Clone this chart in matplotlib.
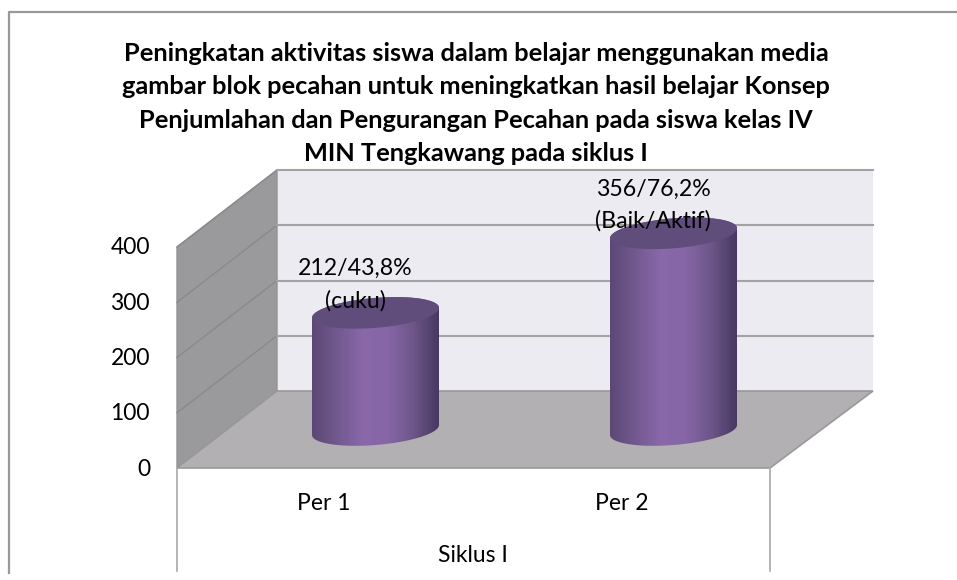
import matplotlib
matplotlib.use("Agg")
from matplotlib import pyplot as plt
from matplotlib.colors import LinearSegmentedColormap
from matplotlib.patches import Polygon
import numpy as np

categories = ["Per 1", "Per 2"]
group_label = "Siklus I"
values = [212, 356]
value_labels = ["212/43,8%\n(cuku)", "356/76,2%\n(Baik/Aktif)"]
y_ticks = [0, 100, 200, 300, 400]
title = ("Peningkatan aktivitas siswa dalam belajar menggunakan media\n"
         "gambar blok pecahan untuk meningkatkan hasil belajar Konsep\n"
         "Penjumlahan dan Pengurangan Pecahan pada siswa kelas IV\n"
         "MIN Tengkawang pada siklus I")

W, H = 957, 580
plt.rcParams['font.family'] = ['Lato', 'DejaVu Sans']

# pixel layout of the 3d box
PX_PER_UNIT = 0.5525
FRONT_Y, BACK_Y = 468, 391
FRONT_L, FRONT_R = 177, 770
BACK_L, BACK_R = 277, 873
AXIS_END = 571
BAR_Y0 = 430
BAR_X0, BAR_STEP = 375.5, 298
BAR_HALF = 63.5
ELL_H = 15
TILT = 5

fig = plt.figure(figsize=(W / 100, H / 100), dpi=100)

# pixel axes for the frame, walls and text layout
bg = fig.add_axes([0, 0, 1, 1])
bg.set_xlim(0, W)
bg.set_ylim(H, 0)
bg.axis("off")

# data axes on top: x is category index, y is the value
ax = fig.add_axes([0, 0, 1, 1], facecolor="none")
ax.axis("off")

bg.plot([9, 9, W], [573, 11.5, 11.5], color="#999999", lw=1.6)

top = max(y_ticks) * PX_PER_UNIT
bg.add_patch(Polygon([(BACK_L, BACK_Y), (BACK_R, BACK_Y), (BACK_R, BACK_Y - top), (BACK_L, BACK_Y - top)],
                     fc="#ecebf1", ec="none"))
bg.add_patch(Polygon([(FRONT_L, FRONT_Y), (BACK_L, BACK_Y), (BACK_L, BACK_Y - top), (FRONT_L, FRONT_Y - top)],
                     fc="#9a999c", ec="#929292", lw=1))
bg.add_patch(Polygon([(FRONT_L, FRONT_Y), (FRONT_R, FRONT_Y), (BACK_R, BACK_Y), (BACK_L, BACK_Y)],
                     fc="#b3b0b4", ec="#999999", lw=1.2))

for t in y_ticks:
    dy = t * PX_PER_UNIT
    if t > 0:
        bg.plot([FRONT_L, BACK_L], [FRONT_Y - dy, BACK_Y - dy], color="#8a8a8a", lw=1)
        bg.plot([BACK_L, BACK_R], [BACK_Y - dy, BACK_Y - dy], color="#a3a3a3", lw=1.5)
    bg.text(150, FRONT_Y - dy + 1, str(t), ha="right", va="center", fontsize=16.5, color="black")

# axis box below the floor
for x in [FRONT_L, FRONT_R]:
    bg.plot([x, x], [FRONT_Y, AXIS_END], color="#a8a8a8", lw=1.2)
bg.text(472.5, 555, group_label, ha="center", va="center", fontsize=16.5)

# cylinders
cmap = LinearSegmentedColormap.from_list(
    "cyl", ["#5c4876", "#72598f", "#8a68aa", "#8666a6", "#6d5689", "#483862"])
half_w = BAR_HALF / BAR_STEP
ell_h = ELL_H / PX_PER_UNIT
tilt = TILT / PX_PER_UNIT
grad = np.linspace(0, 1, 200).reshape(1, -1)

def ellipse_xy(xc, yc, t_par):
    # tilted ellipse, right side sits higher than the left
    ex = xc + half_w * np.cos(t_par)
    ey = yc + ell_h * np.sin(t_par) + tilt * np.cos(t_par)
    return ex, ey

lower_half = np.linspace(np.pi, 2 * np.pi, 100)
upper_half = np.linspace(0, np.pi, 100)
full = np.linspace(0, 2 * np.pi, 200)

for i, v in enumerate(values):
    bx, by = ellipse_xy(i, 0, lower_half)
    tx, ty = ellipse_xy(i, v, upper_half)
    body = Polygon(np.c_[np.r_[bx, tx], np.r_[by, ty]], fc="none", ec="none")
    ax.add_patch(body)
    im = ax.imshow(grad, cmap=cmap, extent=[i - half_w, i + half_w, -2 * ell_h, v + 2 * ell_h],
                   aspect="auto", zorder=3)
    im.set_clip_path(body)
    cx, cy = ellipse_xy(i, v, full)
    ax.fill(cx, cy, color="#614d7b", zorder=4, lw=0)
    ax.text(i - 0.068, v + 51, value_labels[i], ha="center", va="center", fontsize=16.7,
            linespacing=1.6, color="black", zorder=5)
    ax.text(i - 0.175, (BAR_Y0 - 504) / PX_PER_UNIT, categories[i], ha="center", va="center",
            fontsize=16.5, color="black", zorder=5)

bg.text(476, 103.5, title, ha="center", va="center", fontsize=18.3, fontweight="bold", linespacing=1.54, color="black")

ax.set_xlim(-BAR_X0 / BAR_STEP, (W - BAR_X0) / BAR_STEP)
ax.set_ylim((BAR_Y0 - H) / PX_PER_UNIT, BAR_Y0 / PX_PER_UNIT)

fig.savefig("out.png", dpi=100)
